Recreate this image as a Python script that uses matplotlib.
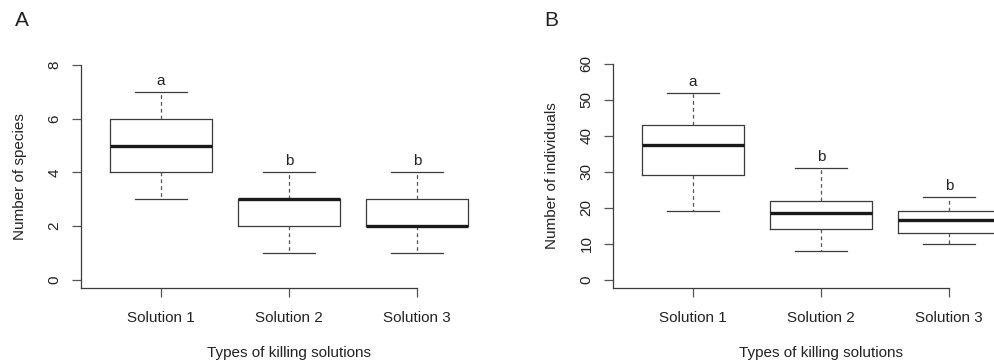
import matplotlib
matplotlib.use("Agg")
import matplotlib.pyplot as plt

plt.rcParams['font.family'] = ['Liberation Sans', 'DejaVu Sans']

solutions = ['Solution 1', 'Solution 2', 'Solution 3']

# five-number summaries: low whisker, q1, median, q3, high whisker
species_low = [3, 1, 1]
species_q1 = [4, 2, 2]
species_med = [5, 3, 2]
species_q3 = [6, 3, 3]
species_high = [7, 4, 4]
species_letters = ['a', 'b', 'b']

indiv_low = [19, 8, 10]
indiv_q1 = [29, 14, 13]
indiv_med = [37.5, 18.5, 16.5]
indiv_q3 = [43, 22, 19]
indiv_high = [52, 31, 23]
indiv_letters = ['a', 'b', 'b']

line_col = '#3a3a3a'


def make_stats(low, q1, med, q3, high):
    return [dict(whislo=a, q1=b, med=c, q3=d, whishi=e, fliers=[])
            for a, b, c, d, e in zip(low, q1, med, q3, high)]


def draw_panel(ax, stats, letters, ylim, yticks, ylabel, top):
    pos = [1, 2, 3]
    ax.bxp(stats, positions=pos, widths=0.8, showfliers=False, patch_artist=False,
           boxprops=dict(color=line_col, linewidth=0.9),
           medianprops=dict(color='#1a1a1a', linewidth=2.4, solid_capstyle='butt'),
           whiskerprops=dict(color='#555555', linewidth=0.9, linestyle=(0, (3, 2.5))),
           capprops=dict(color=line_col, linewidth=0.9),
           capwidths=0.4)
    for p, s, lab in zip(pos, stats, letters):
        ax.annotate(lab, xy=(p, s['whishi']), xytext=(0, 8), textcoords='offset points',
                    ha='center', va='center', fontsize=11, color='#222222')
    ax.set_xlim(0.375, 3.625)
    ax.set_ylim(*ylim)
    ax.set_xticks(pos)
    ax.set_xticklabels(solutions, fontsize=11, color='#222222')
    ax.set_yticks(yticks)
    ax.set_yticklabels([str(t) for t in yticks], rotation=90, va='center',
                       fontsize=11, color='#222222')
    ax.tick_params(axis='both', length=6.5, width=0.9, color='#555555')
    ax.tick_params(axis='y', pad=7.5)
    ax.tick_params(axis='x', pad=10)
    for side in ['top', 'right']:
        ax.spines[side].set_visible(False)
    for side in ['left', 'bottom']:
        ax.spines[side].set_color(line_col)
        ax.spines[side].set_linewidth(0.9)
    ax.spines['left'].set_bounds(ylim[0], top)
    ax.spines['bottom'].set_bounds(0.375, 3)
    ax.set_ylabel(ylabel, fontsize=11, color='#222222', labelpad=15)
    ax.set_xlabel('Types of killing solutions', fontsize=11, color='#222222', labelpad=15.5)


fig = plt.figure(figsize=(9.95, 3.62), dpi=100)
ax1 = fig.add_axes([81 / 995, 74 / 362, 416 / 995, 223 / 362])
ax2 = fig.add_axes([613 / 995, 74 / 362, 416 / 995, 224 / 362])

draw_panel(ax1, make_stats(species_low, species_q1, species_med, species_q3, species_high),
           species_letters, (-0.3, 8), [0, 2, 4, 6, 8], 'Number of species', 8)
draw_panel(ax2, make_stats(indiv_low, indiv_q1, indiv_med, indiv_q3, indiv_high),
           indiv_letters, (-2.33, 60), [0, 10, 20, 30, 40, 50, 60], 'Number of individuals', 60)

fig.text(15 / 995, 1 - 20 / 362, 'A', fontsize=15, va='center', ha='left', color='#222222')
fig.text(544 / 995, 1 - 20 / 362, 'B', fontsize=15, va='center', ha='left', color='#222222')

fig.savefig('out.png', dpi=100)
